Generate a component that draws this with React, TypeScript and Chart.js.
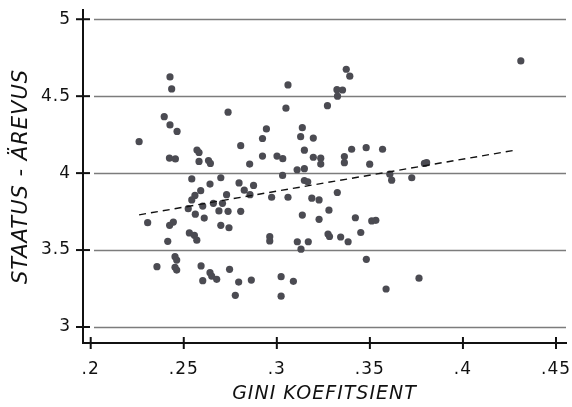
import React, { useEffect, useRef } from "react";
import { Chart, registerables } from "chart.js";

Chart.register(...registerables);

// Gini coefficient (x) values
const giniValues: number[] = [
  0.2426, 0.2435, 0.2738, 0.2395, 0.2426, 0.2464, 0.226, 0.2571, 0.2582, 0.2423,
  0.2455, 0.2582, 0.2633, 0.2643, 0.2543, 0.2641, 0.2699, 0.306, 0.3049, 0.3272,
  0.2944, 0.2923, 0.3137, 0.3128, 0.3196, 0.2806, 0.3148, 0.2923, 0.3001, 0.3032,
  0.3196, 0.3236, 0.3236, 0.2854, 0.3109, 0.3148, 0.3031, 0.2797, 0.2875, 0.3148,
  0.3166, 0.2825, 0.2856, 0.273, 0.2972, 0.306, 0.3188, 0.3227, 0.2591, 0.256,
  0.2543, 0.3373, 0.3392, 0.3323, 0.3353, 0.3326, 0.3402, 0.348, 0.3568, 0.3363,
  0.3363, 0.3499, 0.3607, 0.3617, 0.3725, 0.3793, 0.3805, 0.3325, 0.4311, 0.2659,
  0.2708, 0.2524, 0.2602, 0.2689, 0.2738, 0.2806, 0.2562, 0.261, 0.2306, 0.2444,
  0.2424, 0.2699, 0.2743, 0.253, 0.2557, 0.257, 0.2414, 0.2453, 0.2462, 0.2356,
  0.2453, 0.2462, 0.2593, 0.2641, 0.265, 0.2677, 0.2602, 0.2746, 0.2795, 0.2863,
  0.2777, 0.3023, 0.3023, 0.3089, 0.2962, 0.2962, 0.311, 0.3169, 0.313, 0.3137,
  0.3227, 0.328, 0.3275, 0.3283, 0.3343, 0.3383, 0.3422, 0.351, 0.3532, 0.3451,
  0.3481, 0.3587, 0.3764,
];

// Status anxiety (y) values
const anxietyValues: number[] = [
  4.625, 4.547, 4.396, 4.367, 4.313, 4.271, 4.204, 4.15, 4.134, 4.098,
  4.092, 4.076, 4.082, 4.063, 3.962, 3.929, 3.97, 4.573, 4.422, 4.438,
  4.287, 4.225, 4.295, 4.237, 4.228, 4.178, 4.149, 4.111, 4.111, 4.094,
  4.103, 4.097, 4.059, 4.059, 4.022, 4.029, 3.985, 3.936, 3.92, 3.952,
  3.944, 3.889, 3.86, 3.86, 3.843, 3.843, 3.837, 3.826, 3.886, 3.855,
  3.826, 4.675, 4.63, 4.542, 4.54, 4.5, 4.155, 4.165, 4.155, 4.108,
  4.068, 4.058, 3.993, 3.954, 3.97, 4.063, 4.068, 3.874, 4.729, 3.804,
  3.804, 3.769, 3.786, 3.754, 3.752, 3.752, 3.733, 3.708, 3.678, 3.682,
  3.661, 3.661, 3.645, 3.611, 3.596, 3.564, 3.557, 3.457, 3.435, 3.392,
  3.388, 3.37, 3.397, 3.353, 3.331, 3.31, 3.301, 3.375, 3.292, 3.305,
  3.206, 3.327, 3.2, 3.297, 3.587, 3.559, 3.554, 3.554, 3.506, 3.727,
  3.7, 3.759, 3.604, 3.588, 3.585, 3.554, 3.71, 3.689, 3.693, 3.614,
  3.44, 3.247, 3.317,
];

// Trend line end points
const trendX: number[] = [0.226, 0.429];
const trendY: number[] = [3.729, 4.151];

// Tick values
const xTickValues: number[] = [0.2, 0.25, 0.3, 0.35, 0.4, 0.45];
const yTickValues: number[] = [3, 3.5, 4, 4.5, 5];

const formatX = (v: number) => {
  const s = String(Math.round(v * 100) / 100);
  return s.startsWith("0") ? s.slice(1) : s;
};

const decorPlugin = {
  id: "decor",
  beforeUpdate(chart: any) {
    (chart.ctx as any).letterSpacing = "1px";
  },
  beforeDraw(chart: any) {
    (chart.ctx as any).letterSpacing = "1px";
  },
  beforeDatasetsDraw(chart: any) {
    const { ctx, chartArea, scales } = chart;
    ctx.save();
    ctx.strokeStyle = "#7c7c7c";
    ctx.lineWidth = 1.5;
    for (const v of yTickValues) {
      const y = Math.round(scales.y.getPixelForValue(v)) + 0.5;
      ctx.beginPath();
      ctx.moveTo(chartArea.left + 11, y);
      ctx.lineTo(chartArea.right, y);
      ctx.stroke();
    }
    ctx.restore();
  },
  afterDatasetsDraw(chart: any) {
    const { ctx, chartArea, scales } = chart;
    ctx.save();
    ctx.strokeStyle = "#111";
    ctx.lineWidth = 2;
    for (const v of yTickValues) {
      const y = scales.y.getPixelForValue(v);
      ctx.beginPath();
      ctx.moveTo(chartArea.left - 7, y);
      ctx.lineTo(chartArea.left + 7, y);
      ctx.stroke();
    }
    for (const v of xTickValues) {
      const x = scales.x.getPixelForValue(v);
      ctx.beginPath();
      ctx.moveTo(x, chartArea.bottom - 6);
      ctx.lineTo(x, chartArea.bottom + 6);
      ctx.stroke();
    }
    ctx.restore();
  },
};

export default function App() {
  const canvasRef = useRef<HTMLCanvasElement | null>(null);

  useEffect(() => {
    if (!canvasRef.current) return;
    const points = giniValues.map((x, i) => ({ x, y: anxietyValues[i] }));
    const trend = trendX.map((x, i) => ({ x, y: trendY[i] }));
    const font = "'DejaVu Sans', sans-serif";

    const chart = new Chart(canvasRef.current, {
      type: "scatter",
      data: {
        datasets: [
          {
            type: "line",
            data: trend,
            borderColor: "#111",
            borderWidth: 1.4,
            borderDash: [7, 5],
            pointRadius: 0,
            fill: false,
          } as any,
          {
            data: points,
            backgroundColor: "#4b4b52",
            borderWidth: 0,
            pointRadius: 3.6,
          },
        ],
      },
      options: {
        animation: false,
        responsive: false,
        layout: { padding: { top: 10, right: 6, bottom: 0, left: 0 } },
        plugins: { legend: { display: false }, tooltip: { enabled: false } },
        scales: {
          x: {
            type: "linear",
            min: 0.19586,
            max: 0.45537,
            afterFit: (scale: any) => {
              scale.height = 64;
              scale.paddingLeft = 0;
              scale.paddingRight = 0;
            },
            afterBuildTicks: (scale: any) => {
              scale.ticks = xTickValues.map((value) => ({ value }));
            },
            grid: { display: false, drawTicks: false, tickLength: 0 },
            border: { display: true, color: "#111", width: 2 },
            ticks: {
              padding: 16,
              color: "#111",
              font: { family: font, size: 17 },
              maxRotation: 0,
              callback: (v: any) => formatX(Number(v)),
            },
            title: {
              display: true,
              text: "GINI KOEFITSIENT",
              color: "#111",
              font: { family: font, size: 19, style: "italic" },
              padding: { top: 0, bottom: 2 },
            },
          },
          y: {
            type: "linear",
            min: 2.896,
            max: 5.06,
            afterFit: (scale: any) => {
              scale.width = 83;
              scale.paddingTop = 0;
              scale.paddingBottom = 0;
            },
            afterBuildTicks: (scale: any) => {
              scale.ticks = yTickValues.map((value) => ({ value }));
            },
            grid: { display: false, drawTicks: false, tickLength: 0 },
            border: { display: true, color: "#111", width: 2 },
            ticks: {
              padding: 12,
              color: "#111",
              font: { family: font, size: 17 },
              callback: (v: any) => String(v),
            },
            title: {
              display: true,
              text: "STAATUS - ÄREVUS",
              color: "#111",
              font: { family: font, size: 21, style: "italic" },
              padding: { top: 9, bottom: 0 },
            },
          },
        },
      },
      plugins: [decorPlugin],
    });

    return () => chart.destroy();
  }, []);

  return (
    <div style={{ position: "absolute", left: 0, top: 0, width: 572, height: 407, background: "#fff" }}>
      <canvas ref={canvasRef} width={572} height={407} style={{ display: "block" }} />
    </div>
  );
}
